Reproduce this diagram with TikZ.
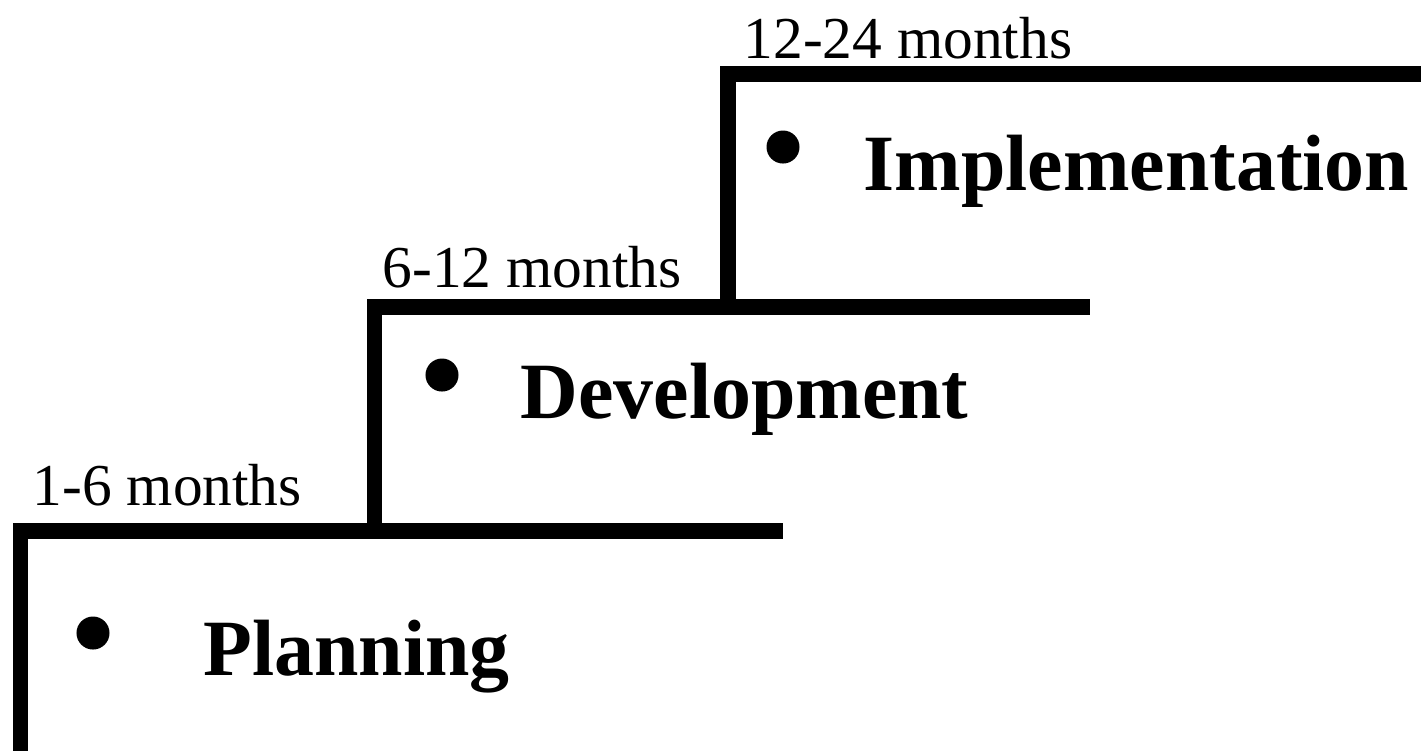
\documentclass[tikz,border=0pt]{standalone}
\usepackage{fontspec}
\setmainfont{Liberation Serif}
\tikzstyle{stair}=[line width=4.4pt]
\tikzstyle{period}=[anchor=base west,inner sep=0pt,font=\fontsize{16.9}{19}\selectfont]
\tikzstyle{phase}=[anchor=base west,inner sep=0pt,font=\fontsize{22.7}{26}\selectfont\bfseries]
\tikzstyle{dot}=[circle,fill,inner sep=0pt,minimum size=0.33cm]

\begin{document}
\begin{tikzpicture}[x=0.01cm,y=-0.01cm]
  \useasboundingbox (0,0) rectangle (1421,750);

  \coordinate (f1) at (20.5,760);
  \coordinate (t1) at (20.5,531);
  \coordinate (e1) at (783,531);
  \coordinate (f2) at (374.5,531);
  \coordinate (t2) at (374.5,307);
  \coordinate (e2) at (1090,307);
  \coordinate (f3) at (728,307);
  \coordinate (t3) at (728,74);
  \coordinate (e3) at (1430,74);

  \node[period] (m1) at (32,505) {1-6 months};
  \node[period] (m2) at (382,287) {6-12 months};
  \node[period] (m3) at (743,58) {12-24 months};

  \node[dot] (d1) at (93,633) {};
  \node[phase] (plan) at (203,675) {Planning};
  \node[dot] (d2) at (442,375) {};
  \node[phase] (dev) at (520,418) {Development};
  \node[dot] (d3) at (783,147) {};
  \node[phase] (impl) at (863,190) {Implementation};

  \draw[stair] (f1) -- (t1) -- (e1);
  \draw[stair] (f2) -- (t2) -- (e2);
  \draw[stair] (f3) -- (t3) -- (e3);
\end{tikzpicture}
\end{document}
